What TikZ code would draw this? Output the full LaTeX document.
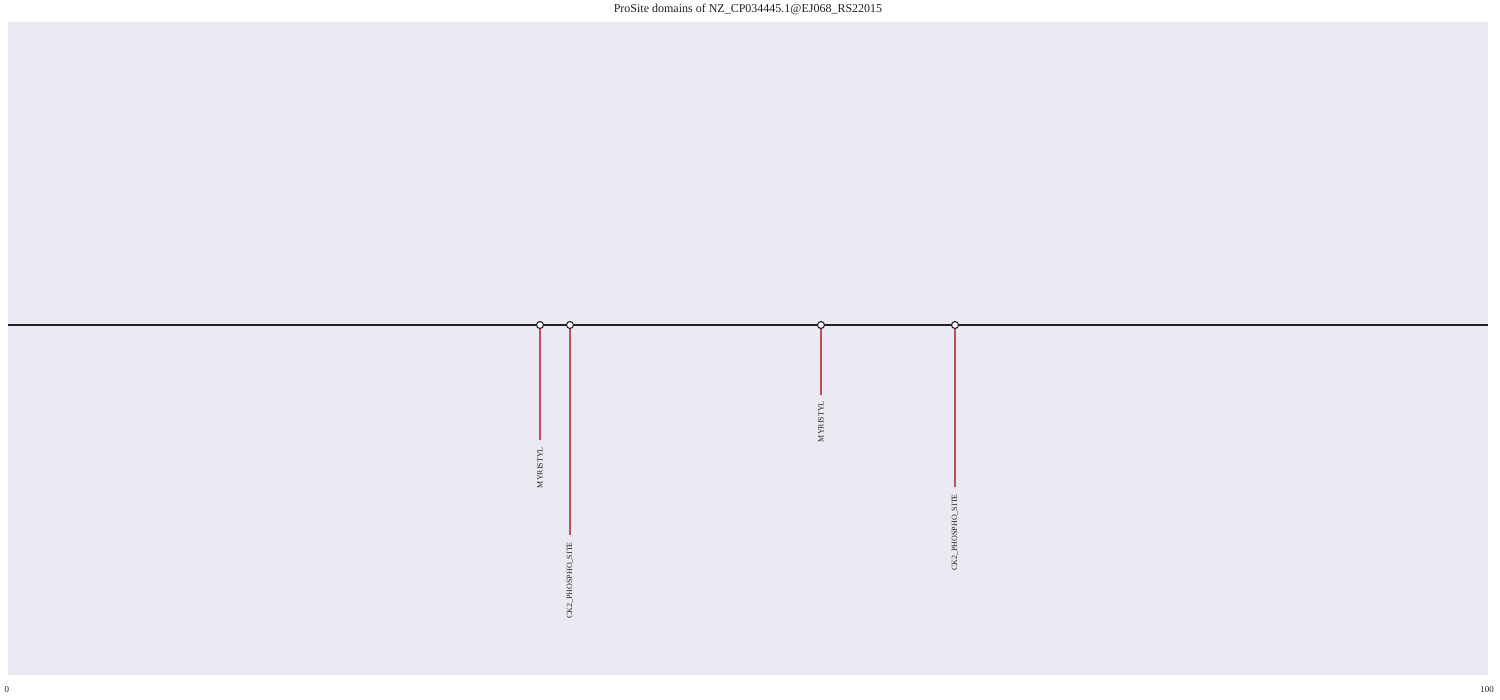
\documentclass[tikz,border=0pt]{standalone}
\usepackage{fontspec}
\setmainfont{Liberation Serif}
\definecolor{bgc}{HTML}{EAEAF2}
\definecolor{stemc}{HTML}{C44E52}
\definecolor{axc}{HTML}{222222}
\begin{document}
\begin{tikzpicture}[x=1pt,y=-1pt,
  stemline/.style={draw=stemc,line width=1.6pt},
  dot/.style={circle,draw=axc,fill=white,line width=1.1pt,minimum size=7pt,inner sep=0pt},
  lbl/.style={rotate=90,anchor=east,inner sep=0pt,font=\fontsize{8}{9}\selectfont,text=axc},
  tick/.style={inner sep=0pt,font=\fontsize{9}{10}\selectfont,text=axc}]
\useasboundingbox (0,0) rectangle (1500,700);
\fill[white] (0,0) rectangle (1500,700);
\fill[bgc] (8,22) rectangle (1488,675);
\node[inner sep=0pt,font=\fontsize{12}{13}\selectfont,text=axc] (title) at (748,9) {ProSite domains of NZ\_CP034445.1@EJ068\_RS22015};
\coordinate (l) at (8,325);
\coordinate (r) at (1488,325);
\draw[axc,line width=1.6pt] (l) -- (r);
% sites
\coordinate (e1) at (540,440);
\coordinate (e2) at (570,535);
\coordinate (e3) at (821,395);
\coordinate (e4) at (955,487);
\node[dot] (d1) at (540,325) {};
\node[dot] (d2) at (570,325) {};
\node[dot] (d3) at (821,325) {};
\node[dot] (d4) at (955,325) {};
\draw[stemline] (d1.south) -- (e1);
\draw[stemline] (d2.south) -- (e2);
\draw[stemline] (d3.south) -- (e3);
\draw[stemline] (d4.south) -- (e4);
\node[lbl] (t1) at (540,447) {MYRISTYL};
\node[lbl] (t2) at (570,542) {CK2\_PHOSPHO\_SITE};
\node[lbl] (t3) at (821,401) {MYRISTYL};
\node[lbl] (t4) at (955,494) {CK2\_PHOSPHO\_SITE};
\node[tick] (x0) at (7,690) {0};
\node[tick] (x100) at (1487,690) {100};
\end{tikzpicture}
\end{document}
